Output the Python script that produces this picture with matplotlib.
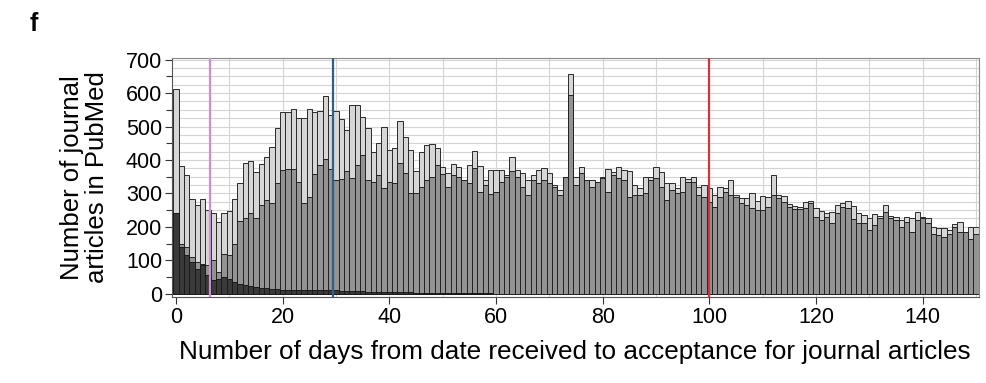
import matplotlib
matplotlib.use("Agg")
import matplotlib.pyplot as plt
from matplotlib.ticker import MultipleLocator

plt.rcParams['font.family'] = ['Liberation Sans', 'DejaVu Sans']

# counts per day (0..150)
light = [612, 382, 356, 282, 265, 282, 250, 240, 215, 240,
         247, 283, 330, 390, 398, 365, 388, 410, 440, 495,
         543, 545, 552, 527, 525, 552, 545, 548, 592, 535,
         548, 522, 490, 565, 565, 530, 495, 425, 450, 500,
         430, 435, 518, 468, 430, 368, 425, 445, 448, 437,
         378, 360, 388, 378, 340, 385, 428, 382, 340, 370,
         370, 370, 355, 410, 370, 360, 340, 355, 370, 375,
         360, 325, 310, 350, 658, 350, 378, 340, 340, 335,
         350, 372, 365, 380, 370, 368, 325, 315, 350, 350,
         378, 365, 330, 330, 315, 348, 342, 348, 320, 325,
         315, 295, 320, 315, 340, 295, 285, 285, 300, 278,
         292, 290, 355, 295, 292, 268, 262, 258, 275, 278,
         255, 248, 240, 245, 265, 270, 278, 262, 240, 235,
         225, 238, 232, 265, 232, 230, 220, 230, 225, 245,
         230, 225, 200, 197, 195, 190, 208, 215, 185, 200, 200]

mid = [240, 150, 140, 110, 95, 90, 85, 100, 65, 120,
       115, 150, 218, 225, 240, 225, 265, 280, 270, 330,
       370, 372, 372, 335, 272, 288, 357, 385, 402, 372,
       340, 342, 368, 345, 385, 415, 340, 335, 355, 315,
       335, 330, 392, 360, 302, 300, 318, 340, 350, 385,
       358, 320, 355, 348, 340, 332, 375, 305, 325, 298,
       305, 335, 350, 368, 350, 320, 295, 340, 330, 340,
       330, 320, 295, 350, 595, 325, 360, 340, 320, 335,
       345, 305, 355, 345, 340, 290, 295, 295, 300, 340,
       345, 320, 280, 310, 302, 305, 335, 335, 295, 290,
       275, 260, 290, 305, 295, 290, 270, 265, 255, 250,
       250, 260, 295, 285, 275, 260, 252, 252, 255, 270,
       230, 220, 230, 210, 240, 260, 255, 222, 210, 210,
       190, 205, 225, 245, 225, 220, 200, 215, 185, 220,
       225, 210, 180, 175, 170, 180, 200, 185, 185, 165, 180]

dark = [240, 140, 115, 95, 75, 85, 55, 40, 45, 50,
        45, 35, 30, 25, 22, 20, 18, 16, 15, 14,
        12, 12, 11, 10, 10, 10, 10, 12, 10, 10,
        10, 8, 8, 8, 8, 7, 6, 6, 6, 5,
        5, 5, 4, 4, 4, 3, 3, 3, 3, 3,
        2, 2, 2, 2, 2, 2, 2, 2, 2, 2]

# cut-off days marked with vertical lines
marks = [6.3, 29.5, 100]
mark_colors = ['#c98fdc', '#2f5f8c', '#d8323c']

fig = plt.figure(figsize=(9.87, 3.83), dpi=100)
ax = fig.add_axes([0.174, 0.2245, 0.8176, 0.624])

ax.bar(range(len(light)), light, width=1, color='#d6d6d6', edgecolor='#2a2a2a', linewidth=0.7, zorder=2)
ax.bar(range(len(mid)), mid, width=1, color='#939393', edgecolor='#222222', linewidth=0.7, zorder=3)
ax.bar(range(len(dark)), dark, width=1, color='#3a3a3a', edgecolor='#1a1a1a', linewidth=0.7, zorder=4)

for m, c in zip(marks, mark_colors):
    ax.axvline(m, color=c, linewidth=1.6, zorder=5)

# light grid: every 25 articles, every 10 days
for yv in range(25, 701, 25):
    ax.axhline(yv, color='#d4d4d4', linewidth=0.8, zorder=1)
for xv in range(10, 151, 10):
    ax.axvline(xv, color='#d4d4d4', linewidth=0.8, zorder=1)

ax.set_xlim(-0.8, 150.5)
ax.set_ylim(-10, 705)
ax.set_yticks(range(0, 701, 100))
ax.yaxis.set_minor_locator(MultipleLocator(50))
ax.set_xticks(range(0, 141, 20))
ax.tick_params(labelsize=15.5, direction='out', length=5, width=0.8, colors='#333333', labelcolor='black', pad=2)
ax.tick_params(which='minor', length=4, width=0.8, colors='#333333')

for s in ['top', 'right']:
    ax.spines[s].set_color('#888888')
for s in ['left', 'bottom']:
    ax.spines[s].set_color('#555555')

ax.set_ylabel('Number of journal\narticles in PubMed', fontsize=18.5, linespacing=1.05, labelpad=12)
ax.set_xlabel('Number of days from date received to acceptance for journal articles', fontsize=18.8, labelpad=9)

fig.text(0.03, 0.92, 'f', fontsize=18, fontweight='bold')

fig.savefig('out.png', dpi=100)
